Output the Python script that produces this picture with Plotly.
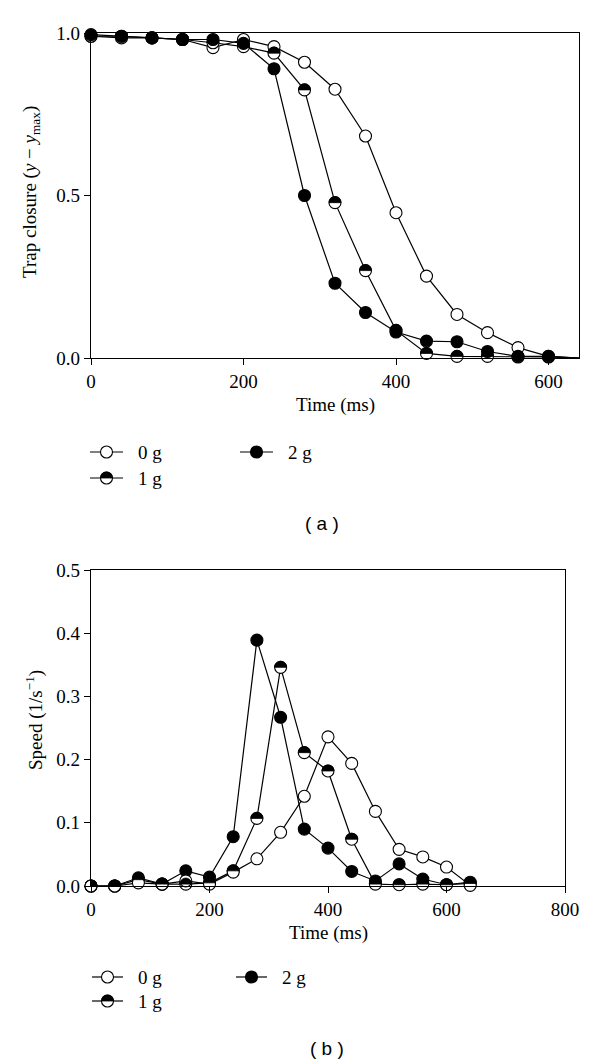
import math
import plotly.graph_objects as go

# ---------------- data ----------------
time_ms = [0, 40, 80, 120, 160, 200, 240, 280, 320, 360, 400, 440, 480, 520, 560, 600, 640]

closure_0g = [0.99, 0.985, 0.985, 0.98, 0.955, 0.98, 0.958, 0.91, 0.827, 0.683, 0.447, 0.252, 0.134, 0.078, 0.032, 0.005, 0.0]
closure_1g = [0.99, 0.99, 0.985, 0.98, 0.97, 0.958, 0.938, 0.825, 0.478, 0.269, 0.085, 0.014, 0.005, 0.005, 0.003, 0.003, 0.0]
closure_2g = [0.995, 0.99, 0.985, 0.98, 0.98, 0.968, 0.89, 0.50, 0.23, 0.14, 0.08, 0.052, 0.05, 0.02, 0.005, 0.005, 0.0]

speed_0g = [0, 0, 0.005, 0.003, 0.008, 0.003, 0.022, 0.043, 0.085, 0.142, 0.236, 0.194, 0.118, 0.058, 0.046, 0.03, 0.001]
speed_1g = [0, 0, 0.01, 0.003, 0.003, 0.005, 0.024, 0.107, 0.346, 0.211, 0.182, 0.074, 0.003, 0.002, 0.003, 0.002, 0.004]
speed_2g = [0, 0, 0.013, 0.003, 0.024, 0.014, 0.078, 0.389, 0.267, 0.09, 0.06, 0.023, 0.008, 0.035, 0.011, 0.002, 0.006]

series_names = ["0 g", "1 g", "2 g"]
top_x_ticks = [0, 200, 400, 600]
bottom_x_ticks = [0, 200, 400, 600, 800]
top_y_ticks = [0.0, 0.5, 1.0]
bottom_y_ticks = [0.0, 0.1, 0.2, 0.3, 0.4, 0.5]

# ---------------- style ----------------
W, H = 600, 1060
SERIF = "Liberation Serif"
SANS = "Liberation Sans"
FS = 19
MS = 12
LW = 1.2
R = MS / 2


def px(x):
    return x / W


def py(y):
    return 1 - y / H


fig = go.Figure()

# marker size arrays: last (edge) point of panel (a) drawn as line only
top_sizes = [MS] * (len(time_ms) - 1) + [0]


def add_series(x, y, fill, xa, ya, sizes):
    fig.add_trace(go.Scatter(
        x=x, y=y, mode="lines+markers", xaxis=xa, yaxis=ya,
        line=dict(color="black", width=LW),
        marker=dict(symbol="circle", size=sizes, color=fill, opacity=1,
                    line=dict(color="black", width=1.1)),
        cliponaxis=False, showlegend=False, hoverinfo="skip"))


# panel (a): 0g, 1g, 2g order
add_series(time_ms, closure_0g, "white", "x", "y", top_sizes)
add_series(time_ms, closure_1g, "white", "x", "y", top_sizes)
add_series(time_ms, closure_2g, "black", "x", "y", top_sizes)
# panel (b): 2g, 1g, 0g order
add_series(time_ms, speed_2g, "black", "x2", "y2", MS)
add_series(time_ms, speed_1g, "white", "x2", "y2", MS)
add_series(time_ms, speed_0g, "white", "x2", "y2", MS)

shapes = []

# upper half-disc outline (pixel offsets, y up) for the half-filled "1 g" symbol
_n = 18
_pts = [(R * math.cos(math.pi * (1 - k / _n)), R * math.sin(math.pi * (1 - k / _n))) for k in range(_n + 1)]
half_path = "M" + " L".join(f"{a:.2f},{b:.2f}" for a, b in _pts) + " Z"


def half_marker(xref, yref, xa, ya):
    return dict(type="path", xref=xref, yref=yref, xsizemode="pixel", ysizemode="pixel",
                xanchor=xa, yanchor=ya, path=half_path,
                fillcolor="black", line=dict(color="black", width=0.8), layer="above")


for i, (t, v) in enumerate(zip(time_ms, closure_1g)):
    if top_sizes[i] > 0:
        shapes.append(half_marker("x", "y", t, v))
for t, v in zip(time_ms, speed_1g):
    shapes.append(half_marker("x2", "y2", t, v))

# ---------------- manual legends ----------------
annotations = []


def legend_entry(x0, x1, y, kind, label, tx):
    xc = (x0 + x1) / 2
    shapes.append(dict(type="line", xref="paper", yref="paper",
                       x0=px(x0), x1=px(x1), y0=py(y), y1=py(y),
                       line=dict(color="black", width=LW)))
    fill = "black" if kind == "full" else "white"
    shapes.append(dict(type="circle", xref="paper", yref="paper",
                       xsizemode="pixel", ysizemode="pixel",
                       xanchor=px(xc), yanchor=py(y),
                       x0=-R, x1=R, y0=-R, y1=R,
                       fillcolor=fill, line=dict(color="black", width=1.1)))
    if kind == "half":
        shapes.append(half_marker("paper", "paper", px(xc), py(y)))
    annotations.append(dict(text=label, xref="paper", yref="paper",
                            x=px(tx), y=py(y), xanchor="left", yanchor="middle",
                            showarrow=False, font=dict(family=SERIF, size=FS, color="black")))


legend_entry(90, 123, 452, "open", series_names[0], 136)
legend_entry(90, 123, 478, "half", series_names[1], 136)
legend_entry(240, 273, 452, "full", series_names[2], 286)

legend_entry(92, 123, 977, "open", series_names[0], 136)
legend_entry(92, 123, 1001, "half", series_names[1], 136)
legend_entry(236, 267, 977, "full", series_names[2], 280)


def text(s, x, y, family=SERIF, size=FS, angle=0):
    annotations.append(dict(text=s, xref="paper", yref="paper", x=px(x), y=py(y),
                            xanchor="center", yanchor="middle", textangle=angle,
                            showarrow=False, font=dict(family=family, size=size, color="black")))


text("Time (ms)", 335, 405)
text("Time (ms)", 328, 933)
text("Trap closure (<i>y</i> − <i>y</i><sub>max</sub>)", 31, 192, angle=-90)
text("Speed (1/s<sup>−1</sup>)", 34, 720, angle=-90)
text("( a )", 322, 523, family=SANS, size=19)
text("( b )", 327, 1048, family=SANS, size=19)

axis_common = dict(showgrid=False, zeroline=False, showline=True, linecolor="black",
                   linewidth=LW, mirror=True, ticks="outside", ticklen=6, tickwidth=LW,
                   tickcolor="black", tickfont=dict(family=SERIF, size=FS, color="black"),
                   automargin=False)

fig.update_layout(
    width=W, height=H,
    margin=dict(l=0, r=0, t=0, b=0),
    paper_bgcolor="white", plot_bgcolor="white",
    showlegend=False,
    xaxis=dict(domain=[px(91), px(579)], range=[0, 640], tickvals=top_x_ticks,
               anchor="y", **axis_common),
    yaxis=dict(domain=[py(358), py(33)], range=[0, 1.0], tickvals=top_y_ticks,
               tickformat=".1f", anchor="x", **axis_common),
    xaxis2=dict(domain=[px(91), px(565)], range=[0, 800], tickvals=bottom_x_ticks,
                anchor="y2", **axis_common),
    yaxis2=dict(domain=[py(886), py(570)], range=[0, 0.5], tickvals=bottom_y_ticks,
                tickformat=".1f", anchor="x2", **axis_common),
    shapes=shapes,
    annotations=annotations,
)

fig.write_html("out.html", config={"displayModeBar": False},
               post_script="document.body.style.margin='0px';document.body.style.overflow='hidden';")
